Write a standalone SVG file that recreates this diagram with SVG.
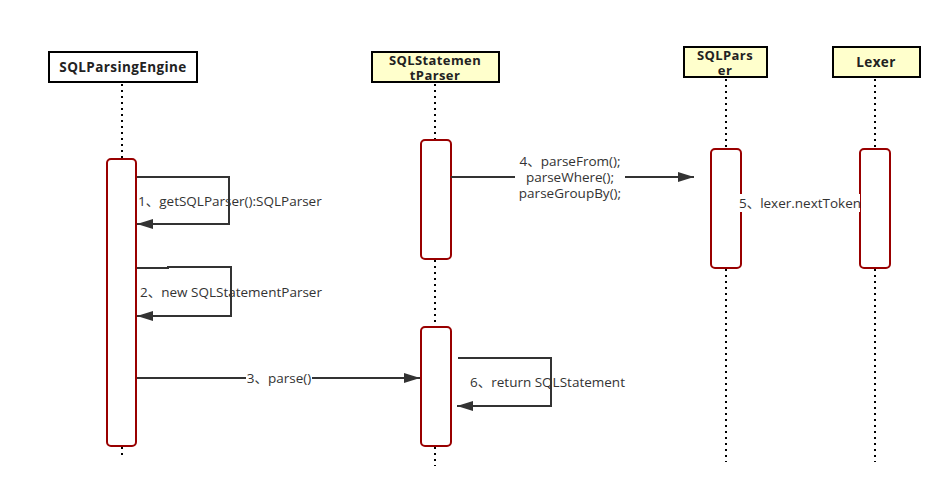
<svg xmlns="http://www.w3.org/2000/svg" width="948" height="497" viewBox="0 0 948 497">
<style>
.hdr{stroke:#000;stroke-width:2}
.ht{font-family:"Open Sans","Noto Sans",sans-serif;font-size:13.5px;font-weight:bold;fill:#222;text-anchor:middle;letter-spacing:0.4px}
.ht2{font-size:13px}
.life{stroke:#000;stroke-width:2;stroke-dasharray:2 4;fill:none}
.act{fill:#fff;stroke:#990000;stroke-width:2}
.msg{stroke:#333;stroke-width:2;fill:none}
.lbl{font-family:"Open Sans","Noto Sans CJK SC",sans-serif;font-size:13.5px;fill:#333}
.bg{fill:#fff}
</style>
<defs>
<marker id="ah" viewBox="0 0 16 10" refX="16" refY="5" markerWidth="16" markerHeight="10" markerUnits="userSpaceOnUse" orient="auto">
<path d="M0,0 L16,5 L0,10 Z" fill="#333"/>
</marker>
</defs>
<rect width="948" height="497" fill="#fff"/>
<g id="lifelines">
<line class="life" x1="122" y1="84" x2="122" y2="160"/>
<line class="life" x1="122" y1="447" x2="122" y2="458"/>
<line class="life" x1="435" y1="84" x2="435" y2="140"/>
<line class="life" x1="435" y1="260" x2="435" y2="327"/>
<line class="life" x1="435" y1="447" x2="435" y2="466"/>
<line class="life" x1="726" y1="79" x2="726" y2="149"/>
<line class="life" x1="726" y1="269" x2="726" y2="462"/>
<line class="life" x1="875" y1="79" x2="875" y2="149"/>
<line class="life" x1="875" y1="269" x2="875" y2="462"/>
</g>
<g id="SQLParsingEngine">
<rect class="hdr" x="49" y="52" width="148" height="30" fill="#fff"/>
<text class="ht" x="123" y="72">SQLParsingEngine</text>
<rect class="act" x="107" y="159" width="29" height="287" rx="4"/>
</g>
<g id="SQLStatementParser">
<rect class="hdr" x="372" y="52" width="127" height="30" fill="#ffffcc"/>
<text class="ht ht2" x="435" y="65">SQLStatemen</text>
<text class="ht ht2" x="435" y="80">tParser</text>
<rect class="act" x="421" y="140" width="30" height="119" rx="4"/>
<rect class="act" x="421" y="327" width="30" height="119" rx="4"/>
</g>
<g id="SQLParser">
<rect class="hdr" x="684" y="47" width="83" height="30" fill="#ffffcc"/>
<text class="ht ht2" x="725" y="60">SQLPars</text>
<text class="ht ht2" x="725" y="75">er</text>
<rect class="act" x="711" y="149" width="30" height="119" rx="4"/>
</g>
<g id="Lexer">
<rect class="hdr" x="833" y="47" width="87" height="30" fill="#ffffcc"/>
<text class="ht" x="876" y="67">Lexer</text>
<rect class="act" x="860" y="149" width="30" height="119" rx="4"/>
</g>
<g id="connectors">
<polyline class="msg" points="137,177 229,177 229,224 137,224" marker-end="url(#ah)"/>
<polyline class="msg" points="137,268 168,268 168,267 231,267 231,316 137,316" marker-end="url(#ah)"/>
<line class="msg" x1="137" y1="378" x2="420" y2="378" marker-end="url(#ah)"/>
<line class="msg" x1="451" y1="177" x2="694" y2="177" marker-end="url(#ah)"/>
<polyline class="msg" points="458,358 551,358 551,406 457,406" marker-end="url(#ah)"/>
</g>
<g id="labels">
<text class="lbl" x="138" y="206">1、getSQLParser():SQLParser</text>
<text class="lbl" x="140" y="297">2、new SQLStatementParser</text>
<rect class="bg" x="246" y="370" width="66" height="16"/>
<text class="lbl" x="279" y="383" text-anchor="middle">3、parse()</text>
<rect class="bg" x="515" y="153" width="110" height="48"/>
<text class="lbl" x="570" y="166" text-anchor="middle">4、parseFrom();</text>
<text class="lbl" x="570" y="182" text-anchor="middle">parseWhere();</text>
<text class="lbl" x="570" y="198" text-anchor="middle">parseGroupBy();</text>
<rect class="bg" x="740" y="194" width="120" height="18"/>
<text class="lbl" x="800" y="208" text-anchor="middle">5、lexer.nextToken</text>
<text class="lbl" x="470" y="387">6、return SQLStatement</text>
</g>
</svg>
